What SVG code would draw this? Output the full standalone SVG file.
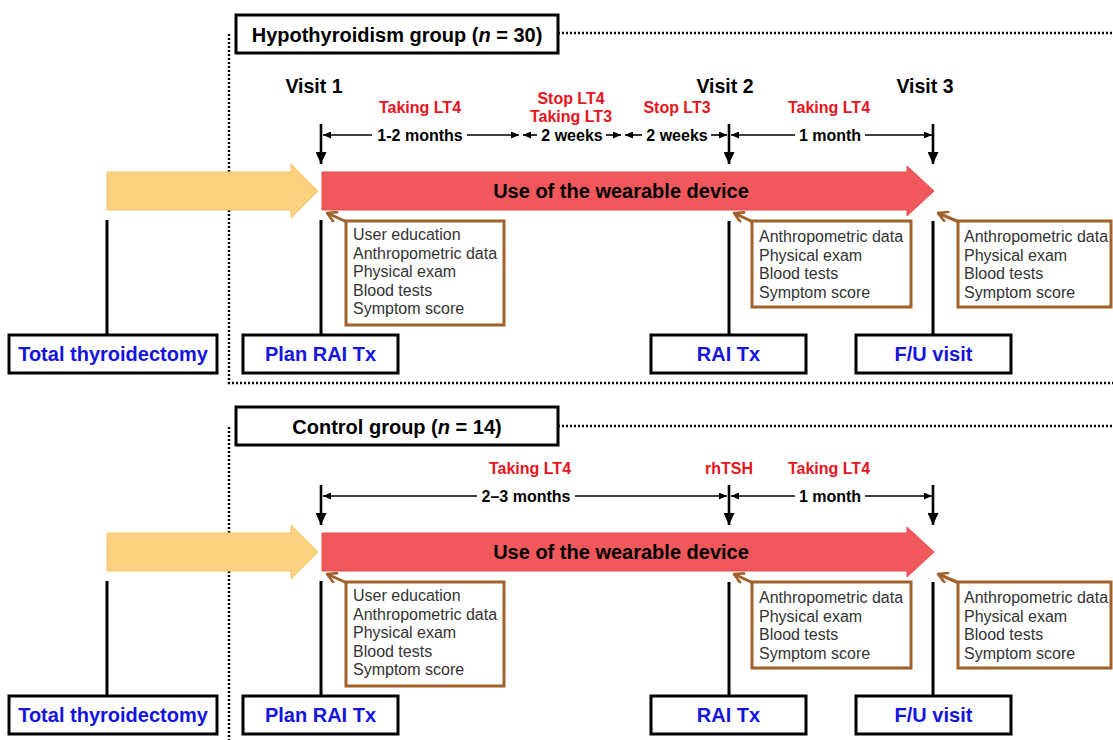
<svg xmlns="http://www.w3.org/2000/svg" width="1113" height="740" viewBox="0 0 1113 740">
<defs>
<style>
text{font-family:"Liberation Sans",Arial,Helvetica,sans-serif}
.title{font-size:20px;font-weight:bold;fill:#000;text-anchor:middle}
.visit{font-size:19.5px;font-weight:bold;fill:#000;text-anchor:middle}
.red{font-size:16px;font-weight:bold;fill:#e8141c;text-anchor:middle}
.int{font-size:16px;font-weight:bold;fill:#000;text-anchor:middle}
.dev{font-size:20px;font-weight:bold;fill:#000;text-anchor:middle}
.blue{font-size:20px;font-weight:bold;fill:#1414e0;text-anchor:middle}
.info{font-size:16px;fill:#333}
.box{fill:#fff;stroke:#000;stroke-width:3}
.bbox{fill:#fff;stroke:#a0612b;stroke-width:3}
.vl{stroke:#000;stroke-width:3;fill:none}
.dot{stroke:#000;stroke-width:2.5;stroke-dasharray:2 2;fill:none}
.hl{stroke:#000;stroke-width:1.6;fill:none;marker-end:url(#ha)}
.va{stroke:#000;stroke-width:2.6;fill:none;marker-end:url(#va)}
.ba{stroke:#a0612b;stroke-width:3;fill:none;marker-start:url(#bm)}
.yel{fill:#fcd280;stroke:#f4c46c;stroke-width:1}
.redar{fill:#f0585c;stroke:#e94a4f;stroke-width:1}
</style>
<marker id="ha" viewBox="0 0 8 7" refX="8" refY="3.5" markerWidth="8" markerHeight="7" markerUnits="userSpaceOnUse" orient="auto"><path d="M0,0 L8,3.5 L0,7 z" fill="#000"/></marker>
<marker id="va" viewBox="0 0 12 11" refX="12" refY="5.5" markerWidth="12" markerHeight="11" markerUnits="userSpaceOnUse" orient="auto"><path d="M0,0 L12,5.5 L0,11 z" fill="#000"/></marker>
<marker id="bm" viewBox="0 0 12 12" refX="1.5" refY="6" markerWidth="12" markerHeight="12" markerUnits="userSpaceOnUse" orient="auto"><path d="M10.5,1 L1.5,6 L10.5,11" fill="none" stroke="#a0612b" stroke-width="2.6" stroke-linejoin="round" stroke-linecap="round"/></marker>
</defs>
<rect width="1113" height="740" fill="#fff"/>

<!-- ===== Hypothyroidism group ===== -->
<g id="hypo-frame">
<path class="dot" d="M558,33 H1113"/>
<path class="dot" d="M229,34 V383 H1113"/>
</g>
<g id="hypo-title">
<rect class="box" x="236" y="15" width="322" height="38"/>
<text class="title" x="397" y="42">Hypothyroidism group (<tspan font-style="italic">n</tspan> = 30)</text>
</g>
<g id="hypo-visits">
<text class="visit" x="314" y="93">Visit 1</text>
<text class="visit" x="725" y="93">Visit 2</text>
<text class="visit" x="925" y="93">Visit 3</text>
</g>
<g id="hypo-labels">
<text class="red" x="420" y="113">Taking LT4</text>
<text class="red" x="571" y="104">Stop LT4</text>
<text class="red" x="571" y="122">Taking LT3</text>
<text class="red" x="677" y="113">Stop LT3</text>
<text class="red" x="829" y="113">Taking LT4</text>
</g>
<g id="hypo-intervals">
<text class="int" x="420" y="141">1-2 months</text>
<text class="int" x="572" y="141">2 weeks</text>
<text class="int" x="677" y="141">2 weeks</text>
<text class="int" x="830" y="141">1 month</text>
</g>
<g id="hypo-arrows-yellow"><path class="yel" d="M107,172 H291 V164 L318,191 L291,218 V210 H107 Z"/></g>
<g id="hypo-arrow-device">
<path class="redar" d="M322,172 H907 V166 L934,191 L907,216 V210 H322 Z"/>
<text class="dev" x="621" y="198">Use of the wearable device</text>
</g>
<g id="hypo-box1">
<rect class="bbox" x="346" y="221" width="158" height="104"/>
<text class="info" x="353" y="240">User education</text>
<text class="info" x="353" y="259">Anthropometric data</text>
<text class="info" x="353" y="277">Physical exam</text>
<text class="info" x="353" y="295.5">Blood tests</text>
<text class="info" x="353" y="314">Symptom score</text>
</g>
<g id="hypo-box2">
<rect class="bbox" x="752" y="221" width="159" height="86"/>
<text class="info" x="759" y="242">Anthropometric data</text>
<text class="info" x="759" y="260.5">Physical exam</text>
<text class="info" x="759" y="279">Blood tests</text>
<text class="info" x="759" y="297.5">Symptom score</text>
</g>
<g id="hypo-box3">
<rect class="bbox" x="958" y="221" width="153" height="86"/>
<text class="info" x="964" y="242">Anthropometric data</text>
<text class="info" x="964" y="260.5">Physical exam</text>
<text class="info" x="964" y="279">Blood tests</text>
<text class="info" x="964" y="297.5">Symptom score</text>
</g>
<g id="hypo-total">
<rect class="box" x="9" y="335" width="208" height="38"/>
<text class="blue" x="113" y="361">Total thyroidectomy</text>
</g>
<g id="hypo-plan">
<rect class="box" x="243" y="335" width="155" height="38"/>
<text class="blue" x="320.5" y="361">Plan RAI Tx</text>
</g>
<g id="hypo-rai">
<rect class="box" x="651" y="335" width="155" height="38"/>
<text class="blue" x="728.5" y="361">RAI Tx</text>
</g>
<g id="hypo-fu">
<rect class="box" x="856" y="335" width="155" height="38"/>
<text class="blue" x="933.5" y="361">F/U visit</text>
</g>
<g id="hypo-connectors">
<path class="va" d="M321,124 V164"/>
<path class="va" d="M729,124 V164"/>
<path class="va" d="M933,124 V164"/>
<path class="hl" d="M372,135 H323"/><path class="hl" d="M467,135 H519"/>
<path class="hl" d="M537,135 H523"/><path class="hl" d="M606,135 H621"/>
<path class="hl" d="M642,135 H625"/><path class="hl" d="M711,135 H727"/>
<path class="hl" d="M795,135 H731"/><path class="hl" d="M865,135 H932"/>
<path class="vl" d="M107,220 V335 M321,220 V335 M729,221 V335 M933,221 V335"/>
<path class="ba" d="M327,213 L347,222"/>
<path class="ba" d="M734,213 L753,222"/>
<path class="ba" d="M938,213 L959,222"/>
</g>

<!-- ===== Control group ===== -->
<g id="ctrl-frame">
<path class="dot" d="M558,426 H1113"/>
<path class="dot" d="M229,427 V740"/>
</g>
<g id="ctrl-title">
<rect class="box" x="236" y="407" width="322" height="38"/>
<text class="title" x="397" y="434">Control group (<tspan font-style="italic">n</tspan> = 14)</text>
</g>
<g id="ctrl-labels">
<text class="red" x="530" y="474">Taking LT4</text>
<text class="red" x="729" y="474">rhTSH</text>
<text class="red" x="829" y="474">Taking LT4</text>
</g>
<g id="ctrl-intervals">
<text class="int" x="526" y="502">2–3 months</text>
<text class="int" x="830" y="502">1 month</text>
</g>
<g id="ctrl-arrow-yellow"><path class="yel" d="M107,533 H291 V525 L318,552 L291,579 V571 H107 Z"/></g>
<g id="ctrl-arrow-device">
<path class="redar" d="M322,533 H907 V527 L934,552 L907,577 V571 H322 Z"/>
<text class="dev" x="621" y="559">Use of the wearable device</text>
</g>
<g id="ctrl-box1">
<rect class="bbox" x="346" y="582" width="158" height="104"/>
<text class="info" x="353" y="601">User education</text>
<text class="info" x="353" y="620">Anthropometric data</text>
<text class="info" x="353" y="638">Physical exam</text>
<text class="info" x="353" y="656.5">Blood tests</text>
<text class="info" x="353" y="675">Symptom score</text>
</g>
<g id="ctrl-box2">
<rect class="bbox" x="752" y="582" width="159" height="86"/>
<text class="info" x="759" y="603">Anthropometric data</text>
<text class="info" x="759" y="621.5">Physical exam</text>
<text class="info" x="759" y="640">Blood tests</text>
<text class="info" x="759" y="658.5">Symptom score</text>
</g>
<g id="ctrl-box3">
<rect class="bbox" x="958" y="582" width="153" height="86"/>
<text class="info" x="964" y="603">Anthropometric data</text>
<text class="info" x="964" y="621.5">Physical exam</text>
<text class="info" x="964" y="640">Blood tests</text>
<text class="info" x="964" y="658.5">Symptom score</text>
</g>
<g id="ctrl-total">
<rect class="box" x="9" y="696" width="208" height="38"/>
<text class="blue" x="113" y="722">Total thyroidectomy</text>
</g>
<g id="ctrl-plan">
<rect class="box" x="243" y="696" width="155" height="38"/>
<text class="blue" x="320.5" y="722">Plan RAI Tx</text>
</g>
<g id="ctrl-rai">
<rect class="box" x="651" y="696" width="155" height="38"/>
<text class="blue" x="728.5" y="722">RAI Tx</text>
</g>
<g id="ctrl-fu">
<rect class="box" x="856" y="696" width="155" height="38"/>
<text class="blue" x="933.5" y="722">F/U visit</text>
</g>
<g id="ctrl-connectors">
<path class="va" d="M321,485 V525"/>
<path class="va" d="M729,485 V525"/>
<path class="va" d="M933,485 V525"/>
<path class="hl" d="M477,496 H323"/><path class="hl" d="M575,496 H727"/>
<path class="hl" d="M795,496 H731"/><path class="hl" d="M865,496 H932"/>
<path class="vl" d="M107,581 V696 M321,581 V696 M729,582 V696 M933,582 V696"/>
<path class="ba" d="M327,574 L347,583"/>
<path class="ba" d="M734,574 L753,583"/>
<path class="ba" d="M938,574 L959,583"/>
</g>
</svg>
